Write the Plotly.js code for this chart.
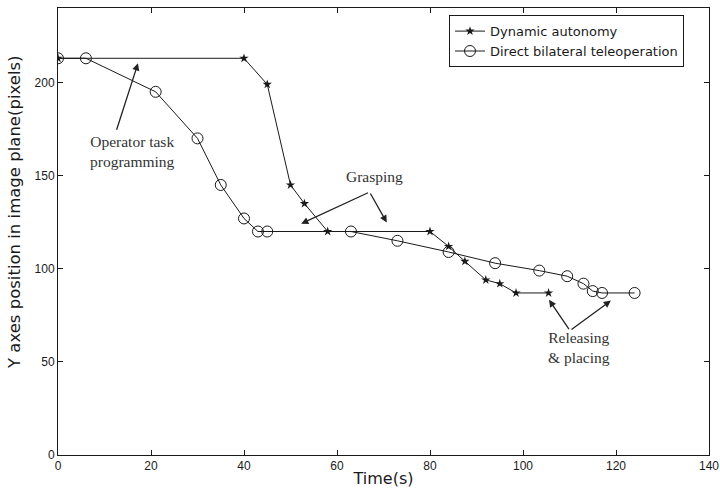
<!DOCTYPE html>
<html>
<head>
<meta charset="utf-8">
<script src="https://cdn.plot.ly/plotly-3.0.1.min.js"></script>
<style>html,body{margin:0;padding:0;background:#fff;}#chart{width:720px;height:492px;}</style>
</head>
<body>
<div id="chart"></div>
<script>
// Data
const dynamicTime = [0, 40, 45, 50, 53, 58, 80, 84, 87.5, 92, 95, 98.5, 105.5];
const dynamicY    = [213, 213, 199, 145, 135, 120, 120, 112, 104, 94, 92, 87, 87];
const directTime  = [0, 6, 21, 30, 35, 40, 43, 45, 63, 73, 84, 94, 103.5, 109.5, 113, 115, 117, 124];
const directY     = [213, 213, 195, 170, 145, 127, 120, 120, 120, 115, 109, 103, 99, 96, 92, 88, 87, 87];
const seriesNames = ["Dynamic autonomy", "Direct bilateral teleoperation"];
const xTicks = [0, 20, 40, 60, 80, 100, 120, 140];
const yTicks = [0, 50, 100, 150, 200];
const yTitle = "Y axes position in image plane(pixels)";
const xTitle = "Time(s)";

const sans = "Liberation Sans, Arial, sans-serif";
const wide = "DejaVu Sans, Verdana, sans-serif";
const serif = "Liberation Serif, Times New Roman, serif";
const ink = "#1a1a1a";

const traces = [
  {x: dynamicTime, y: dynamicY, name: seriesNames[0], mode: "lines+markers",
   line: {color: ink, width: 1},
   marker: {symbol: "star", size: 7, color: ink, line: {width: 0}}},
  {x: directTime, y: directY, name: seriesNames[1], mode: "lines+markers",
   line: {color: ink, width: 1},
   marker: {symbol: "circle-open", size: 11, color: ink, line: {width: 1}}}
];

function arrow(x, y, ax, ay) {
  return {x: x, y: y, ax: ax, ay: ay, xref: "x", yref: "y", axref: "x", ayref: "y",
          text: "", showarrow: true, arrowhead: 2, arrowsize: 1.1, arrowwidth: 1.3,
          arrowcolor: "#222", standoff: 0, startstandoff: 0};
}
function label(x, y, t) {
  return {x: x, y: y, xref: "x", yref: "y", text: t, showarrow: false,
          font: {family: serif, size: 15.5, color: "#333"}, align: "center"};
}

const layout = {
  width: 720, height: 492,
  margin: {l: 58, r: 11, t: 8, b: 37},
  paper_bgcolor: "#fff", plot_bgcolor: "#fff",
  showlegend: true,
  legend: {x: 0.6006, y: 0.984, xanchor: "left", yanchor: "top",
           bgcolor: "#fff", bordercolor: ink, borderwidth: 1,
           font: {family: wide, size: 13, color: ink}, tracegroupgap: 0, itemwidth: 30},
  xaxis: {range: [0, 140], tickvals: xTicks, ticks: "inside", ticklen: 5, tickcolor: ink,
          showline: true, linecolor: ink, linewidth: 1, mirror: "ticks", showgrid: false, zeroline: false,
          tickfont: {family: sans, size: 12, color: ink},
          title: {text: xTitle, font: {family: wide, size: 16, color: ink}, standoff: 0}},
  yaxis: {range: [0, 240], tickvals: yTicks, ticks: "inside", ticklen: 5, tickcolor: ink,
          showline: true, linecolor: ink, linewidth: 1, mirror: "ticks", showgrid: false, zeroline: false,
          tickfont: {family: sans, size: 12, color: ink}},
  annotations: [
    {x: (14 - 58) / 651, y: (455 - 212) / 447, xref: "paper", yref: "paper", text: yTitle, textangle: -90,
     showarrow: false, xanchor: "center", yanchor: "middle",
     font: {family: wide, size: 16.5, color: ink}},
    arrow(17.2, 210.3, 12.5, 173.8),
    label(16.1, 163, "Operator task<br>programming"),
    arrow(52.3, 124.2, 67.0, 141.2),
    arrow(70.7, 124.8, 67.0, 141.2),
    label(68.1, 149.5, "Grasping"),
    arrow(105.6, 83.3, 110.1, 66.8),
    arrow(118.9, 82.9, 110.1, 66.8),
    label(112.1, 57.5, "Releasing<br>& placing")
  ]
};

Plotly.newPlot("chart", traces, layout, {displayModeBar: false, staticPlot: true});
</script>
</body>
</html>
